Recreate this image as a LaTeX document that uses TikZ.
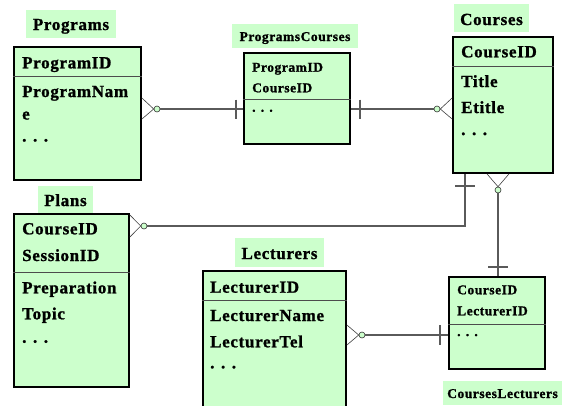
\documentclass[tikz,border=0pt]{standalone}
\usepackage{fontspec}
\setmainfont{Liberation Serif}
\newfontfamily\erfont[LetterSpace=4, FakeBold=1.2, UprightFont=* Bold, BoldFont=* Bold]{Liberation Serif}
\usetikzlibrary{positioning}
\definecolor{erbg}{HTML}{CCFFCC}
\definecolor{linkgray}{HTML}{5A5A5A}

\begin{document}
\begin{tikzpicture}[x=1pt, y=-1pt,
    every node/.style={inner sep=0pt},
    bigfont/.style={font=\erfont\fontsize{17}{20}\selectfont},
    smallfont/.style={font=\erfont\fontsize{13.5}{16}\selectfont},
    entbox/.style={rectangle, draw=black, line width=1.8pt, fill=erbg},
    enttitle/.style={fill=erbg, text height=12pt, text depth=0pt},
    field/.style={anchor=base west, text=black},
    split/.style={draw=black!70, line width=0.8pt},
    link/.style={draw=linkgray, line width=1.1pt},
    foot/.style={draw=black!75, line width=0.6pt},
    ring/.style={circle, draw=black!80, fill=erbg, line width=0.6pt, minimum size=6pt}]

    \clip (0,0) rectangle (567,405);
    \fill[white] (0,0) rectangle (567,405);

    % entity boxes
    \node[entbox, minimum width=127pt, minimum height=133pt] (prog) at (77.5,113.5) {};
    \node[entbox, minimum width=106pt, minimum height=91pt] (pc) at (297,98.5) {};
    \node[entbox, minimum width=100pt, minimum height=136pt] (crs) at (503,105) {};
    \node[entbox, minimum width=115pt, minimum height=173pt] (plans) at (71.5,300.5) {};
    \node[entbox, minimum width=143pt, minimum height=149pt] (lect) at (274.5,345.5) {};
    \node[entbox, minimum width=96pt, minimum height=92pt] (cl) at (497,323) {};

    \draw[split] (prog.west |- 0,76) -- (prog.east |- 0,76);
    \draw[split] (pc.west |- 0,99) -- (pc.east |- 0,99);
    \draw[split] (crs.west |- 0,66) -- (crs.east |- 0,66);
    \draw[split] (plans.west |- 0,272) -- (plans.east |- 0,272);
    \draw[split] (lect.west |- 0,300) -- (lect.east |- 0,300);
    \draw[split] (cl.west |- 0,324) -- (cl.east |- 0,324);

    % titles
    \node[enttitle, bigfont, minimum width=90pt, minimum height=28pt] (progT) at (71,24) {Programs};
    \node[enttitle, smallfont, minimum width=126pt, minimum height=24pt, text height=10pt] (pcT) at (295,36) {ProgramsCourses};
    \node[enttitle, bigfont, minimum width=75pt, minimum height=28pt, text height=14pt] (crsT) at (491.5,18) {Courses};
    \node[enttitle, bigfont, minimum width=55pt, minimum height=27pt, text height=13pt] (plansT) at (65.5,199.5) {Plans};
    \node[enttitle, bigfont, minimum width=89pt, minimum height=29pt, text height=13pt] (lectT) at (279.5,252.5) {Lecturers};
    \node[enttitle, smallfont, minimum width=119pt, minimum height=24pt, text height=10pt] (clT) at (502.5,393) {CoursesLecturers};

    % fields
    \node[field, bigfont] (progA) at (22,68.3) {ProgramID};
    \node[field, bigfont] (progB) at (22,97) {ProgramNam};
    \node[field, bigfont] (progC) at (22,119.5) {e};
    \node[field, bigfont] (progD) at (22,141.5) {. . .};

    \node[field, smallfont] (pcA) at (252,71.7) {ProgramID};
    \node[field, smallfont] (pcB) at (252,92.3) {CourseID};
    \node[field, smallfont] (pcC) at (252,111.7) {. . .};

    \node[field, bigfont] (crsA) at (461,57.3) {CourseID};
    \node[field, bigfont] (crsB) at (461,87) {Title};
    \node[field, bigfont] (crsC) at (461,113) {Etitle};
    \node[field, bigfont] (crsD) at (461,135) {. . .};

    \node[field, bigfont] (plansA) at (22,234.3) {CourseID};
    \node[field, bigfont] (plansB) at (22,261) {SessionID};
    \node[field, bigfont] (plansC) at (22,293.3) {Preparation};
    \node[field, bigfont] (plansD) at (22,319.3) {Topic};
    \node[field, bigfont] (plansE) at (22,342.7) {. . .};

    \node[field, bigfont] (lectA) at (210,292.7) {LecturerID};
    \node[field, bigfont] (lectB) at (210,321) {LecturerName};
    \node[field, bigfont] (lectC) at (210,347.3) {LecturerTel};
    \node[field, bigfont] (lectD) at (210,368.3) {. . .};

    \node[field, smallfont] (clA) at (457,294.3) {CourseID};
    \node[field, smallfont] (clB) at (457,315.3) {LecturerID};
    \node[field, smallfont] (clC) at (457,336) {. . .};

    % Programs -- ProgramsCourses
    \node[ring] (r1) at (157,109) {};
    \coordinate (b1) at (236,109);
    \draw[foot] (prog.east |- 0,98) -- (r1.west) -- (prog.east |- 0,119);
    \draw[link] (r1.east) -- (pc.west |- r1);
    \draw[link] (b1) ++(0,-9.5) -- ++(0,19);

    % ProgramsCourses -- Courses
    \node[ring] (r2) at (437,109) {};
    \coordinate (b2) at (360,109);
    \draw[link] (pc.east |- r2) -- (r2.west);
    \draw[link] (b2) ++(0,-9.5) -- ++(0,19);
    \draw[foot] (crs.west |- 0,98) -- (r2.east) -- (crs.west |- 0,119);

    % Courses -- Plans
    \node[ring] (r3) at (144,226) {};
    \coordinate (k3) at (465,226);
    \coordinate (b3) at (465,186);
    \draw[foot] (plans.east |- 0,215) -- (r3.west) -- (plans.east |- 0,237);
    \draw[link] (r3.east) -- (k3) -- (k3 |- crs.south);
    \draw[link] (b3) ++(-10,0) -- ++(20,0);

    % Courses -- CoursesLecturers
    \node[ring] (r4) at (498,190) {};
    \coordinate (b4) at (498,267);
    \draw[foot] (crs.south -| 487,0) -- (r4.north) -- (crs.south -| 509,0);
    \draw[link] (r4.south) -- (r4 |- cl.north);
    \draw[link] (b4) ++(-10,0) -- ++(20,0);

    % Lecturers -- CoursesLecturers
    \node[ring] (r5) at (362,335) {};
    \coordinate (b5) at (440,335);
    \draw[foot] (lect.east |- 0,325) -- (r5.west) -- (lect.east |- 0,345);
    \draw[link] (r5.east) -- (cl.west |- r5);
    \draw[link] (b5) ++(0,-10) -- ++(0,20);
\end{tikzpicture}
\end{document}
